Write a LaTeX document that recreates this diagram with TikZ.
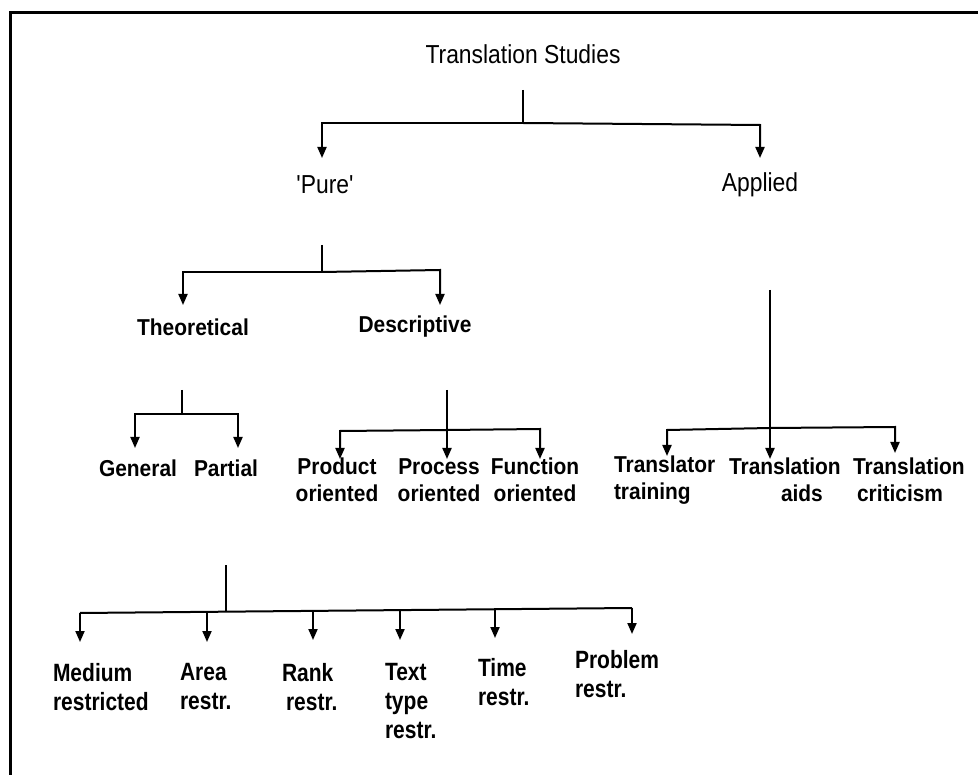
\documentclass[tikz,border=0pt]{standalone}
\usepackage{fontspec}
\setmainfont{Liberation Sans}
\newfontfamily\topfont[FakeStretch=0.88]{Liberation Sans}
\newfontfamily\midfont[FakeStretch=0.91]{Liberation Sans Bold}
\newfontfamily\lowfont[FakeStretch=0.84]{Liberation Sans Bold}
\usetikzlibrary{arrows.meta}
\begin{document}
\begin{tikzpicture}[x=1pt,y=-1pt,
  line width=2pt,
  toplbl/.style={inner sep=0pt, font=\topfont\fontsize{26}{30}\selectfont, align=center},
  midlbl/.style={inner sep=0pt, font=\midfont\fontsize{23}{27}\selectfont, align=center},
  lowlbl/.style={inner sep=0pt, font=\lowfont\fontsize{25}{29}\selectfont, align=left, anchor=north west},
  arr/.style={-{Triangle[length=11pt,width=9pt]}},
  frame/.style={line width=3pt}]
\useasboundingbox (0,0) rectangle (978,775);
% frame
\coordinate (fbl) at (10,780);
\coordinate (ftl) at (10,13);
\coordinate (ftr) at (985,13);
\draw[frame] (fbl) -- (ftl) -- (ftr);

% level 0
\node[toplbl] (ts) at (523,54) {Translation Studies};
\coordinate (ts0) at (523,90);
\coordinate (ts1) at (523,123);
\coordinate (h1l) at (322,123);
\coordinate (h1r) at (760,125);
\coordinate (pureT) at (322,158);
\coordinate (applT) at (760,158);
\draw (ts0) -- (ts1);
\draw[arr] (ts1) -- (h1l) -- (pureT);
\draw[arr] (ts1) -- (h1r) -- (applT);

% level 1
\node[toplbl] (pure) at (325,185) {'Pure'};
\node[toplbl] (appl) at (760,185) {Applied};

\coordinate (p0) at (322,245);
\coordinate (p1) at (322,272);
\coordinate (p1l) at (183,272);
\coordinate (p1r) at (440,270);
\coordinate (theoT) at (183,305);
\coordinate (descT) at (440,305);
\draw (p0) -- (p1);
\draw[arr] (p1) -- (p1l) -- (theoT);
\draw[arr] (p1) -- (p1r) -- (descT);

% level 2
\node[midlbl] (theo) at (193,327) {Theoretical};
\node[midlbl] (desc) at (415,327) {Descriptive};

\coordinate (t0) at (182,390);
\coordinate (t1) at (182,414);
\coordinate (t1l) at (135,414);
\coordinate (t1r) at (238,414);
\coordinate (genT) at (135,448);
\coordinate (parT) at (238,448);
\draw (t0) -- (t1);
\draw[arr] (t1) -- (t1l) -- (genT);
\draw[arr] (t1) -- (t1r) -- (parT);

\node[midlbl] (gen) at (138,468) {General};
\node[midlbl] (par) at (226,468) {Partial};

\coordinate (d0) at (447,390);
\coordinate (d1) at (447,430);
\coordinate (d1l) at (340,431);
\coordinate (d1r) at (540,429);
\coordinate (prodT) at (340,459);
\coordinate (procT) at (447,459);
\coordinate (funcT) at (540,459);
\draw[arr] (d0) -- (procT);
\draw[arr] (d1) -- (d1l) -- (prodT);
\draw[arr] (d1) -- (d1r) -- (funcT);

\node[midlbl] (prod) at (337,480) {Product\\oriented};
\node[midlbl] (proc) at (439,480) {Process\\oriented};
\node[midlbl] (func) at (535,480) {Function\\oriented};

% applied
\coordinate (a0) at (770,290);
\coordinate (a1) at (770,428);
\coordinate (a1l) at (667,430);
\coordinate (a1r) at (895,427);
\coordinate (trT) at (667,456);
\coordinate (aidT) at (770,459);
\coordinate (crT) at (895,453);
\draw[arr] (a0) -- (aidT);
\draw[arr] (a1) -- (a1l) -- (trT);
\draw[arr] (a1) -- (a1r) -- (crT);

\node[midlbl, align=left, anchor=west] (tr) at (613,480) {Translator\\training};
\node[midlbl, align=left, anchor=west] (aid) at (728,480) {Translation\\\hspace*{52pt}aids};
\node[midlbl, align=left, anchor=west] (cr) at (852,480) {Translation\\\hspace*{4pt}criticism};

% partial subtree
\coordinate (q0) at (226,565);
\coordinate (q1) at (226,612);
\coordinate (qm) at (80,613);
\coordinate (qa) at (207,612);
\coordinate (qr) at (313,611);
\coordinate (qt) at (400,611);
\coordinate (qi) at (495,610);
\coordinate (qp) at (632,608);
\draw (q0) -- (q1);
\draw (qm) -- (qp);
\coordinate (medT) at (80,642);
\coordinate (areaT) at (207,642);
\coordinate (rankT) at (313,640);
\coordinate (textT) at (400,640);
\coordinate (timeT) at (495,638);
\coordinate (probT) at (632,634);
\draw[arr] (qm) -- (medT);
\draw[arr] (qa) -- (areaT);
\draw[arr] (qr) -- (rankT);
\draw[arr] (qt) -- (textT);
\draw[arr] (qi) -- (timeT);
\draw[arr] (qp) -- (probT);

\node[lowlbl] (med) at (52,662) {Medium\\restricted};
\node[lowlbl] (area) at (179,662) {Area\\restr.};
\node[lowlbl] (rank) at (281,662) {Rank\\\hspace*{4pt}restr.};
\node[lowlbl] (text) at (384,662) {Text\\type\\restr.};
\node[lowlbl] (time) at (477,657) {Time\\restr.};
\node[lowlbl] (prob) at (574,649) {Problem\\restr.};
\end{tikzpicture}
\end{document}
